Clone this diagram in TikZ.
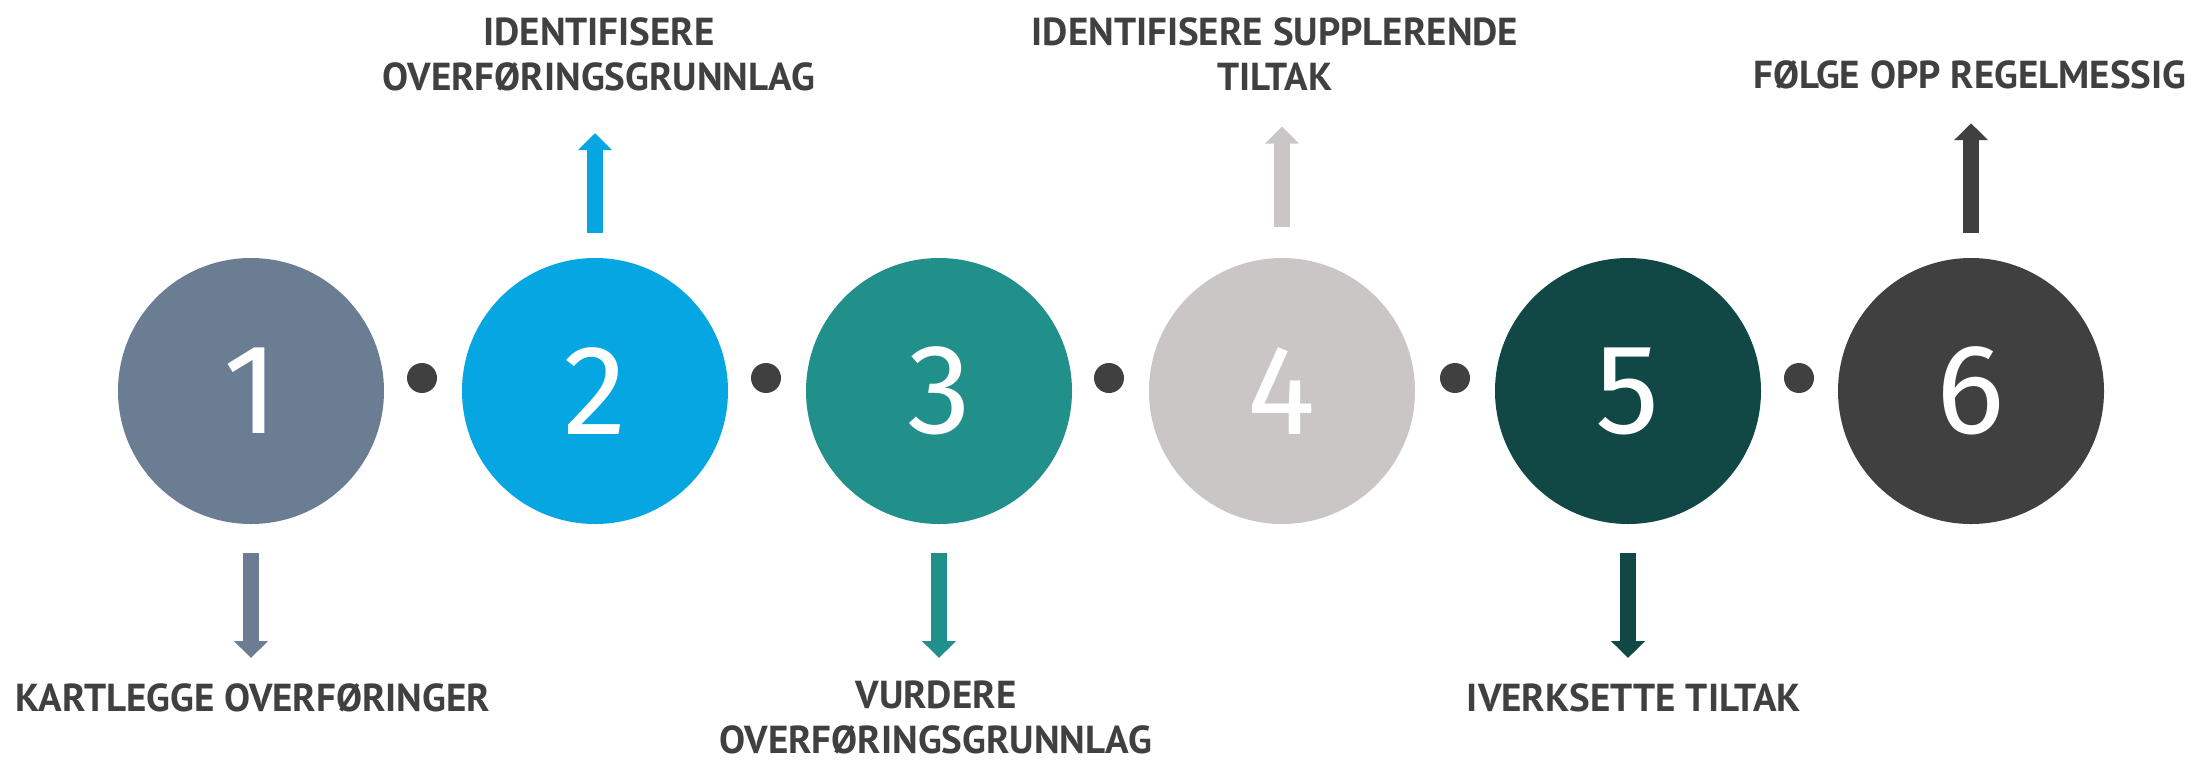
\documentclass[tikz,border=0pt]{standalone}
\usepackage{fontspec}
\setmainfont{PT Sans}
\newfontfamily\digitfont{Fira Sans}
\usetikzlibrary{arrows.meta, positioning}
\definecolor{stepA}{HTML}{6A7D92}
\definecolor{stepB}{HTML}{05A6E1}
\definecolor{stepC}{HTML}{22908A}
\definecolor{stepD}{HTML}{C9C6C5}
\definecolor{stepE}{HTML}{114845}
\definecolor{stepF}{HTML}{404040}
\definecolor{ink}{HTML}{404040}

\begin{document}
\begin{tikzpicture}[
    x=0.5pt, y=-0.5pt,
    stage/.style={circle, minimum size=133pt, inner sep=0pt, text=white, font=\digitfont\fontsize{64}{64}\selectfont},
    joint/.style={circle, fill=ink, minimum size=15pt, inner sep=0pt},
    caption/.style={inner sep=0pt, align=center, text=ink, font=\bfseries\fontsize{19.5}{22.5}\selectfont},
    every edge/.append style={line width=8pt, -{Triangle[width=16.5pt, length=8.5pt]}}
]
   \useasboundingbox (0,0) rectangle (2196,762);

   % Steps
   \node[stage, fill=stepA] (n1) at (251,391) {1};
   \node[stage, fill=stepB] (n2) at (595,391) {2};
   \node[stage, fill=stepC] (n3) at (939,391) {3};
   \node[stage, fill=stepD] (n4) at (1282,391) {4};
   \node[stage, fill=stepE] (n5) at (1628,391) {5};
   \node[stage, fill=stepF] (n6) at (1971,391) {6};

   % Dots between the steps
   \node[joint] (d12) at (422,378) {};
   \node[joint] (d23) at (766,378) {};
   \node[joint] (d34) at (1109,378) {};
   \node[joint] (d45) at (1455,378) {};
   \node[joint] (d56) at (1799,378) {};

   % Captions
   \node[caption, anchor=north] (l1) at (253,683) {KARTLEGGE OVERFØRINGER};
   \node[caption, anchor=north] (l2) at (599,17) {IDENTIFISERE\\OVERFØRINGSGRUNNLAG};
   \node[caption, anchor=north] (l3) at (936,680) {VURDERE\\OVERFØRINGSGRUNNLAG};
   \node[caption, anchor=north] (l4) at (1275,17) {IDENTIFISERE SUPPLERENDE\\TILTAK};
   \node[caption, anchor=north] (l5) at (1634,683) {IVERKSETTE TILTAK};
   \node[caption, anchor=north] (l6) at (1970,60) {FØLGE OPP REGELMESSIG};

   % Arrows
   \path
   (n1.south) edge[draw=stepA, shorten <=14.5pt, shorten >=12.5pt] (n1.south |- l1.north)
   (n2.north) edge[draw=stepB, shorten <=12.5pt, shorten >=21pt] (n2.north |- l2.south)
   (n3.south) edge[draw=stepC, shorten <=14.5pt, shorten >=11pt] (n3.south |- l3.north)
   (n4.north) edge[draw=stepD, shorten <=15.5pt, shorten >=18pt] (n4.north |- l4.south)
   (n5.south) edge[draw=stepE, shorten <=14.5pt, shorten >=12.5pt] (n5.south |- l5.north)
   (n6.north) edge[draw=stepF, shorten <=12.5pt, shorten >=17pt] (n6.north |- l6.south);
\end{tikzpicture}
\end{document}
